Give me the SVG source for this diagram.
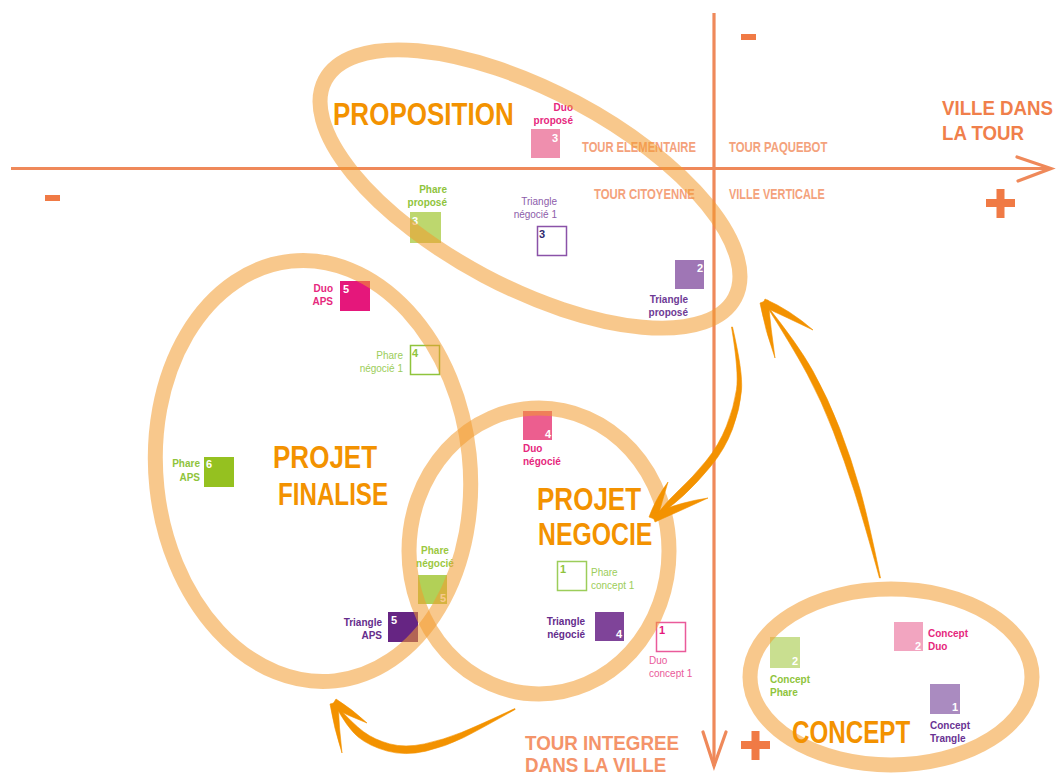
<svg xmlns="http://www.w3.org/2000/svg" width="1059" height="780" viewBox="0 0 1059 780">
<style>
.ax{stroke:#ef895a;stroke-width:3.2;fill:none}
.axh{stroke:#ef895a;stroke-width:3.2;fill:none;stroke-linecap:round;stroke-linejoin:miter}
.sign{fill:#f07a45}
.qt{font-family:"Liberation Sans",Arial,sans-serif;font-weight:bold;font-size:14px;fill:#f4a27c}
.big{font-family:"Liberation Sans",Arial,sans-serif;font-weight:bold;fill:#f07f4b}
.ring{fill:none;stroke:#f39a2e;stroke-opacity:0.55;stroke-width:15}
.title{font-family:"Liberation Sans",Arial,sans-serif;font-weight:bold;font-size:31px;fill:#f39200}
.lb{font-family:"Liberation Sans",Arial,sans-serif;font-weight:bold;font-size:10px}
.lr{font-family:"Liberation Sans",Arial,sans-serif;font-size:10px}
.num{font-family:"Liberation Sans",Arial,sans-serif;font-weight:bold;font-size:11px;fill:#ffffff}
.pink{fill:#e6287d}
.pinkr{fill:#ea5a9a}
.green{fill:#8fc43c}
.greenr{fill:#9ccd5a}
.purple{fill:#652c8c}
.purpler{fill:#8d5caa}
.arrow{fill:#f39200;stroke:#f39200;stroke-width:0.6;stroke-linejoin:round}
</style>

<g id="axes">
<line class="ax" x1="11" y1="168.5" x2="1050" y2="168.5"/>
<polyline class="axh" points="1017,157 1051,168.5 1018,181"/>
<line class="ax" x1="714" y1="13" x2="714" y2="766"/>
<polyline class="axh" points="703,732 714,766 726,732"/>
<rect class="sign" x="45" y="195" width="15" height="6"/>
<rect class="sign" x="741" y="34" width="15" height="6"/>
<rect class="sign" x="986" y="199" width="29" height="8"/>
<rect class="sign" x="996.5" y="189" width="8" height="29"/>
<rect class="sign" x="741" y="741" width="29" height="8"/>
<rect class="sign" x="751.5" y="731" width="8" height="29"/>
<text class="big" font-size="21" transform="translate(942 115) scale(0.89 1)">VILLE DANS</text>
<text class="big" font-size="21" transform="translate(942 140) scale(0.89 1)">LA TOUR</text>
<text class="big" font-size="20" style="fill:#f4946a" transform="translate(525 750) scale(0.94 1)">TOUR INTEGREE</text>
<text class="big" font-size="20" style="fill:#f4946a" transform="translate(525 772) scale(0.94 1)">DANS LA VILLE</text>
<text class="qt" transform="translate(582 152) scale(0.80 1)">TOUR ELEMENTAIRE</text>
<text class="qt" transform="translate(729 152) scale(0.81 1)">TOUR PAQUEBOT</text>
<text class="qt" transform="translate(594 199) scale(0.81 1)">TOUR CITOYENNE</text>
<text class="qt" transform="translate(729 199) scale(0.78 1)">VILLE VERTICALE</text>
</g>

<g id="node-duo-propose">
<rect x="531" y="129" width="29" height="29" fill="#ef8fae"/>
<text class="num" x="558" y="142" text-anchor="end">3</text>
<text class="lb pink" x="573" y="111" text-anchor="end">Duo</text>
<text class="lb pink" x="573" y="124" text-anchor="end">proposé</text>
</g>
<g id="node-phare-propose">
<rect x="410" y="212" width="31" height="31" fill="#bdd76e"/>
<text class="num" x="412" y="225">3</text>
<text class="lb green" x="447" y="193" text-anchor="end">Phare</text>
<text class="lb green" x="447" y="206" text-anchor="end">proposé</text>
</g>
<g id="node-triangle-negocie-1">
<rect x="537.5" y="226.5" width="29" height="29" fill="#ffffff" stroke="#8a52a8" stroke-width="1.5"/>
<text class="num" x="539" y="238" style="fill:#2e2a6e">3</text>
<text class="lr purpler" x="557" y="205" text-anchor="end">Triangle</text>
<text class="lr purpler" x="557" y="218" text-anchor="end">négocié 1</text>
</g>
<g id="node-triangle-propose">
<rect x="675" y="260" width="29" height="29" fill="#9f76b5"/>
<text class="num" x="703" y="272" text-anchor="end">2</text>
<text class="lb purple" x="688" y="303" text-anchor="end" style="fill:#6e3a95">Triangle</text>
<text class="lb purple" x="688" y="316" text-anchor="end" style="fill:#6e3a95">proposé</text>
</g>
<g id="node-duo-aps">
<rect x="340" y="281" width="30" height="30" fill="#e5177b"/>
<text class="num" x="343" y="293">5</text>
<text class="lb pink" x="333" y="292" text-anchor="end">Duo</text>
<text class="lb pink" x="333" y="305" text-anchor="end">APS</text>
</g>
<g id="node-phare-negocie-1">
<rect x="410.5" y="345.5" width="29" height="29" fill="#ffffff" stroke="#8fc43c" stroke-width="1.5"/>
<text class="num" x="412" y="357" style="fill:#8fc43c">4</text>
<text class="lr greenr" x="403" y="359" text-anchor="end">Phare</text>
<text class="lr greenr" x="403" y="372" text-anchor="end">négocié 1</text>
</g>
<g id="node-phare-aps">
<rect x="204" y="457" width="30" height="30" fill="#95c120"/>
<text class="num" x="206" y="468">6</text>
<text class="lb green" x="200" y="467" text-anchor="end">Phare</text>
<text class="lb green" x="200" y="481" text-anchor="end">APS</text>
</g>
<g id="node-duo-negocie">
<rect x="523" y="411" width="29" height="29" fill="#ec5e8f"/>
<text class="num" x="551" y="438" text-anchor="end">4</text>
<text class="lb pink" x="523" y="452">Duo</text>
<text class="lb pink" x="523" y="465">négocié</text>
</g>
<g id="node-phare-negocie">
<rect x="418" y="575" width="29" height="29" fill="#b2d057"/>
<text class="num" x="446" y="602" text-anchor="end">5</text>
<text class="lb green" x="435" y="554" text-anchor="middle" style="fill:#9cc83f">Phare</text>
<text class="lb green" x="435" y="567" text-anchor="middle" style="fill:#9cc83f">négocié</text>
</g>
<g id="node-phare-concept-1">
<rect x="557.5" y="561.5" width="29" height="29" fill="#ffffff" stroke="#9ccd5a" stroke-width="1.5"/>
<text class="num" x="560" y="573" style="fill:#8fc43c">1</text>
<text class="lr greenr" x="591" y="576">Phare</text>
<text class="lr greenr" x="591" y="589">concept 1</text>
</g>
<g id="node-triangle-negocie">
<rect x="595" y="612" width="29" height="29" fill="#7f4499"/>
<text class="num" x="622" y="638" text-anchor="end">4</text>
<text class="lb purple" x="585" y="625" text-anchor="end">Triangle</text>
<text class="lb purple" x="585" y="638" text-anchor="end">négocié</text>
</g>
<g id="node-duo-concept-1">
<rect x="656.5" y="622.5" width="29" height="29" fill="#ffffff" stroke="#ea5a9a" stroke-width="1.5"/>
<text class="num" x="659" y="634" style="fill:#e5177b">1</text>
<text class="lr pinkr" x="649" y="664">Duo</text>
<text class="lr pinkr" x="649" y="677">concept 1</text>
</g>
<g id="node-triangle-aps">
<rect x="388" y="612" width="30" height="30" fill="#662583"/>
<text class="num" x="391" y="624">5</text>
<text class="lb purple" x="382" y="626" text-anchor="end">Triangle</text>
<text class="lb purple" x="382" y="639" text-anchor="end">APS</text>
</g>
<g id="node-concept-phare">
<rect x="770" y="637" width="30" height="31" fill="#c9df90"/>
<text class="num" x="798" y="665" text-anchor="end">2</text>
<text class="lb green" x="770" y="683">Concept</text>
<text class="lb green" x="770" y="696">Phare</text>
</g>
<g id="node-concept-duo">
<rect x="894" y="622" width="29" height="29" fill="#f2a5c0"/>
<text class="num" x="921" y="650" text-anchor="end">2</text>
<text class="lb pink" x="928" y="637">Concept</text>
<text class="lb pink" x="928" y="650">Duo</text>
</g>
<g id="node-concept-trangle">
<rect x="930" y="684" width="30" height="30" fill="#aa8bc0"/>
<text class="num" x="958" y="711" text-anchor="end">1</text>
<text class="lb purple" x="930" y="729" style="fill:#6a3393">Concept</text>
<text class="lb purple" x="930" y="742" style="fill:#6a3393">Trangle</text>
</g>

<g id="group-proposition">
<ellipse class="ring" cx="530" cy="189" rx="232" ry="98" transform="rotate(28 530 189)"/>
<text class="title" transform="translate(333 125) scale(0.84 1)">PROPOSITION</text>
</g>
<g id="group-projet-finalise">
<ellipse class="ring" cx="313" cy="471" rx="157" ry="211" transform="rotate(-6 313 471)"/>
<text class="title" transform="translate(273 468) scale(0.84 1)">PROJET</text>
<text class="title" transform="translate(278 505) scale(0.78 1)">FINALISE</text>
</g>
<g id="group-projet-negocie">
<ellipse class="ring" cx="539" cy="551" rx="130" ry="143"/>
<text class="title" transform="translate(537 510) scale(0.84 1)">PROJET</text>
<text class="title" transform="translate(538 545) scale(0.80 1)">NEGOCIE</text>
</g>
<g id="group-concept">
<ellipse class="ring" cx="891" cy="677" rx="141" ry="88"/>
<text class="title" transform="translate(792 743) scale(0.78 1)">CONCEPT</text>
</g>

<g id="connectors">
<path class="arrow" d="M732.5,327 Q743,372 741.5,390.5 Q740,409 732.5,429 Q725,449 711,466 Q697,483 683.5,495.5 Q670,508 654,518 Q666,502 679.5,489.5 Q693,477 706,461 Q719,445 726.5,426 Q734,407 736.5,389.5 Q739,372 731.5,327 Z"/>
<path class="arrow" d="M649,517 Q656,498 668,482 Q662,502 657,520 Z"/>
<path class="arrow" d="M652,514 Q680,502 708,498 Q682,510 655,522 Z"/>

<path class="arrow" d="M880.5,578 Q868.4,519.3 859.9,489 Q851.3,458.8 839.7,428.6 Q828.1,398.4 812.8,370.8 Q797.4,343.2 764,302 Q792.6,346.8 807.3,374.2 Q821.9,401.6 833.3,431.4 Q844.7,461.2 854.2,491 Q863.6,520.7 879.5,578 Z"/>
<path class="arrow" d="M760,303 Q765,330 775,358 Q771,330 768,300 Z"/>
<path class="arrow" d="M765,299 Q790,310 813,330 Q788,318 762,306 Z"/>

<path class="arrow" d="M515.2,709.4 Q480.9,728.8 463.6,737.6 Q446.3,746.3 425.7,751.2 Q405,756 387.3,751.1 Q369.6,746.2 358.5,737.3 Q347.3,728.3 334,703 Q352.7,723.7 363.6,731.8 Q374.4,739.8 389.7,743.9 Q405,748 424.4,743.9 Q443.7,739.7 461.4,732.5 Q479.1,725.2 514.8,708.6 Z"/>
<path class="arrow" d="M336,699 Q352,709 367,723 Q349,716 331,707 Z"/>
<path class="arrow" d="M338,702 Q339,728 342,753 Q334,728 330,704 Z"/>
</g>
</svg>
